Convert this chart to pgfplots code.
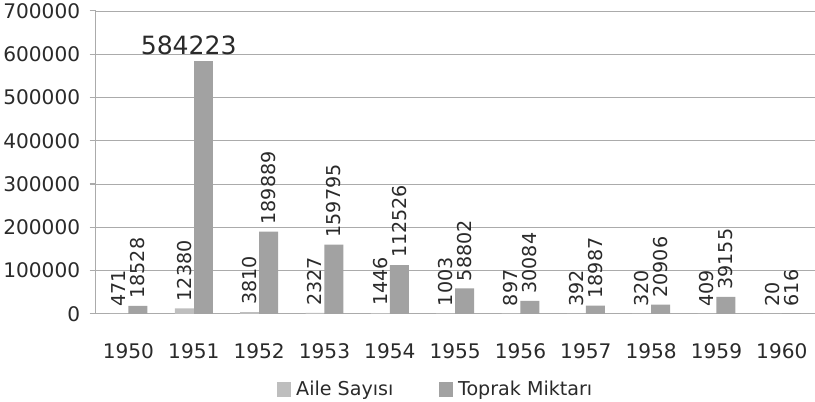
\documentclass[border=0pt]{standalone}
\usepackage{pgfplots}
\pgfplotsset{compat=1.18}
\usepackage{fontspec}
\setmainfont{DejaVu Sans}
\definecolor{aile}{HTML}{BEBEBE}
\definecolor{toprak}{HTML}{A2A2A2}
\definecolor{gridc}{HTML}{ABABAB}
\definecolor{txt}{HTML}{2A2A2A}
\begin{document}
\begin{tikzpicture}
\begin{axis}[
  scale only axis, width=712bp, height=300bp,
  ymin=0, ymax=700000, ytick={0,100000,200000,300000,400000,500000,600000,700000},
  scaled y ticks=false,
  /pgf/number format/assume math mode=true,
  yticklabel style={/pgf/number format/fixed, /pgf/number format/1000 sep={}, font=\fontsize{20}{22}\selectfont, text=txt, xshift=-6bp},
  xmin=-0.5, xmax=10.5,
  xtick={0,...,10},
  xticklabels={1950,1951,1952,1953,1954,1955,1956,1957,1958,1959,1960},
  xticklabel style={font=\fontsize{20}{22}\selectfont, text=txt, yshift=-20bp},
  x tick style={draw=none},
  minor xtick={0.5,1.5,2.5,3.5,4.5,5.5,6.5,7.5,8.5,9.5},
  minor x tick style={gridc, line width=1pt},
  minor tick length=7bp,
  major tick length=6bp,
  y tick style={gridc, line width=1pt},
  tick align=outside,
  ymajorgrids, grid style={gridc, line width=0.8pt},
  axis x line*=bottom, axis y line*=left,
  axis line style={gridc, line width=1pt, -},
  ybar, bar width=0.29,
  point meta=explicit symbolic,
  nodes near coords,
  nodes near coords style={rotate=90, anchor=west, font=\fontsize{19}{21}\selectfont, text=txt, inner sep=7bp},
  legend style={at={(0.475,-0.25)}, anchor=center, legend columns=2, draw=none, fill=none,
    font=\fontsize{19}{21}\selectfont, text=txt,
    nodes={inner xsep=5bp},
    /tikz/every even column/.append style={column sep=40bp}},
  legend image code/.code={\fill[#1] (0bp,-7bp) rectangle (14bp,7bp);},
]
\addplot[fill=aile, draw=none, bar shift=-0.145] coordinates {
 (0,471)[471] (1,12380)[12380] (2,3810)[3810] (3,2327)[2327] (4,1446)[1446]
 (5,1003)[1003] (6,897)[897] (7,392)[392] (8,320)[320] (9,409)[409] (10,20)[20]};
\addlegendentry{Aile Sayısı}
\addplot[fill=toprak, draw=none, bar shift=0.145] coordinates {
 (0,18528)[18528] (2,189889)[189889] (3,159795)[159795] (4,112526)[112526]
 (5,58802)[58802] (6,30084)[30084] (7,18987)[18987] (8,20906)[20906] (9,39155)[39155] (10,616)[616]};
\addlegendentry{Toprak Miktarı}
\addplot[fill=toprak, draw=none, bar shift=0.145, forget plot,
  every node near coord/.style={anchor=south, font=\fontsize{25}{27}\selectfont, text=txt, inner sep=6bp, xshift=-5bp}]
  coordinates {(1,584223)[584223]};
\end{axis}
\end{tikzpicture}
\end{document}
